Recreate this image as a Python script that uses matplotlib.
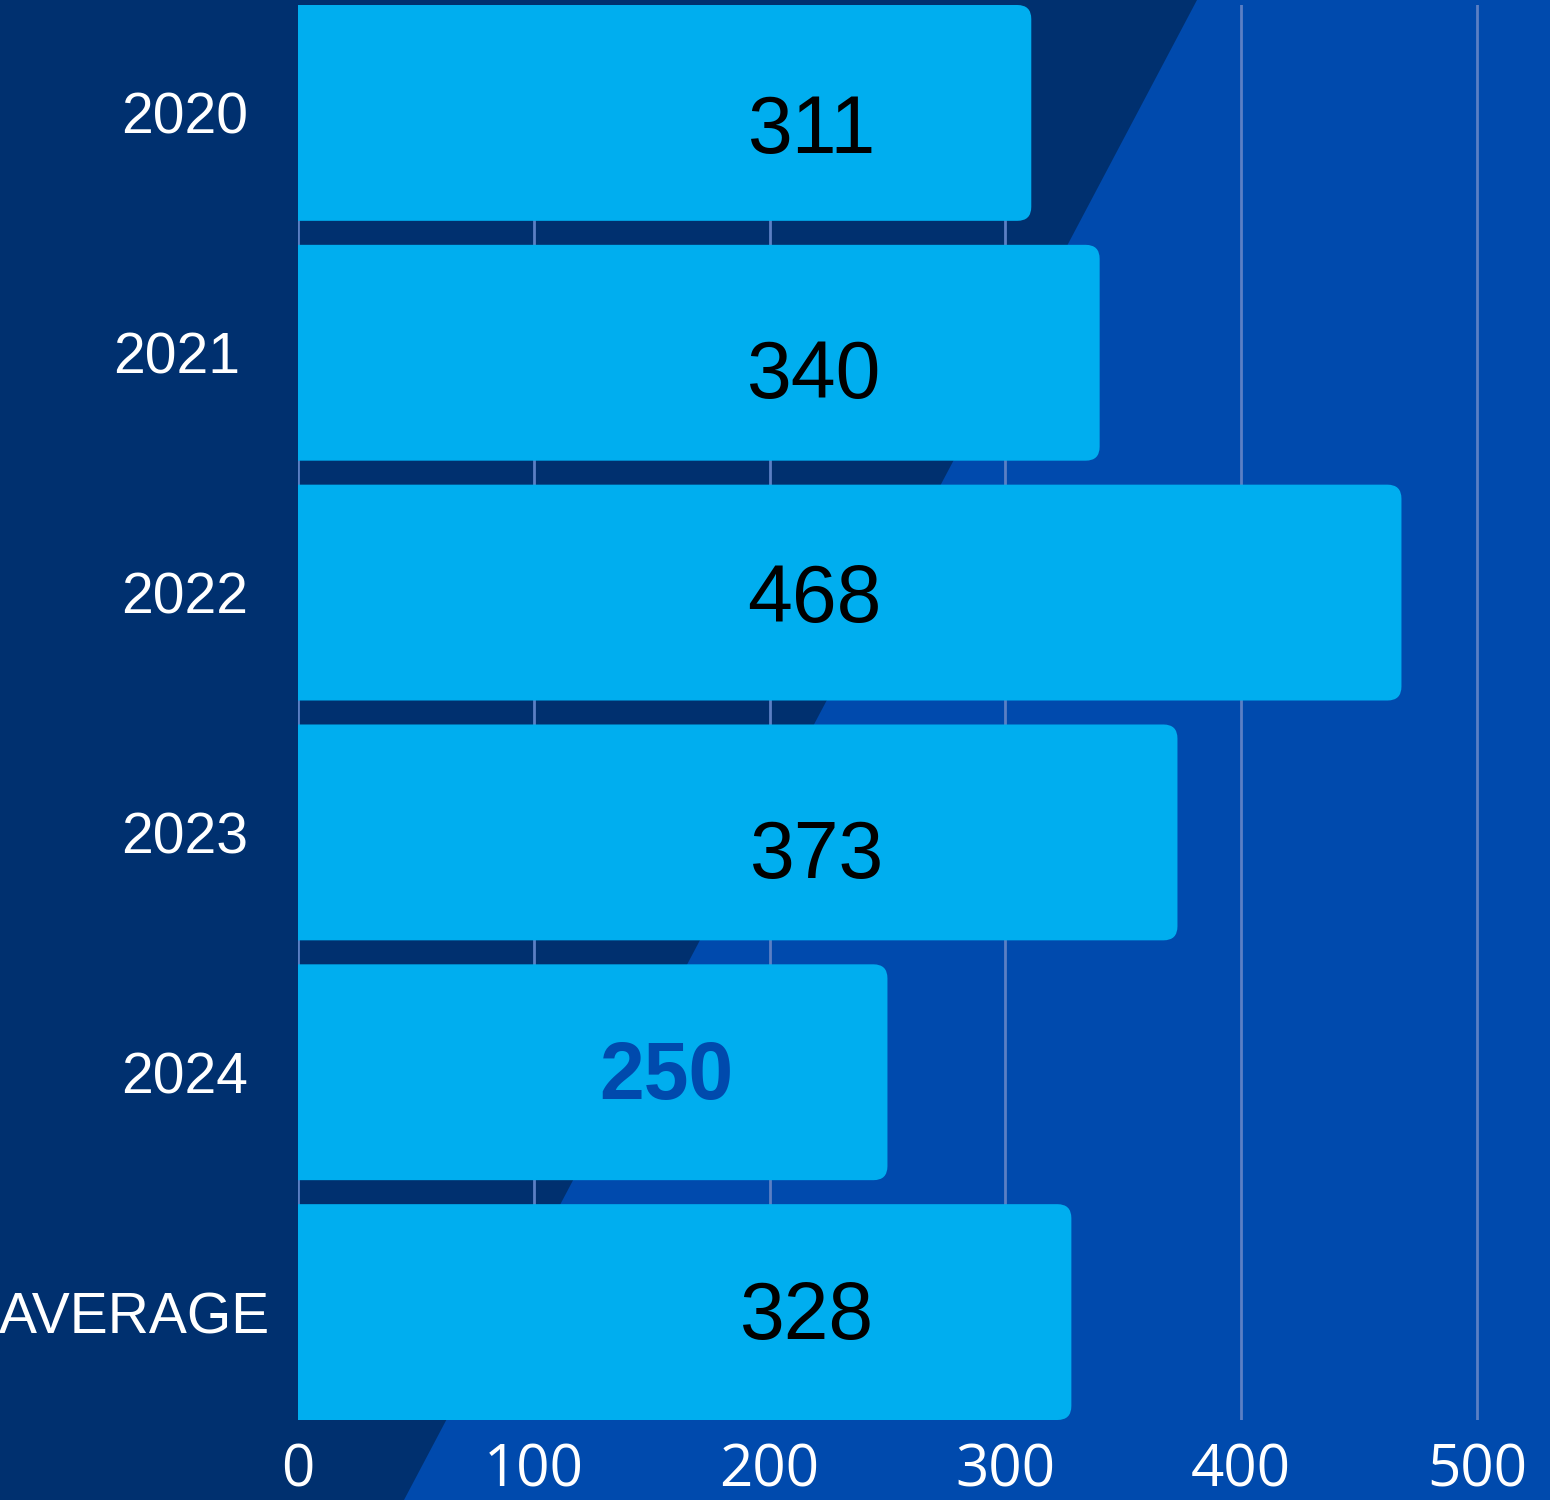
import matplotlib.pyplot as plt
from matplotlib.patches import FancyBboxPatch, Polygon

categories = ["2020", "2021", "2022", "2023", "2024", "AVERAGE"]
values = [311, 340, 468, 373, 250, 328]
x_ticks = [0, 100, 200, 300, 400, 500]

# label layout (data x of label centre, pixel nudge down)
label_x = [218, 219, 219, 220, 156, 216]
label_dy_px = [11, 16, 0, 16, -3, -3]

NAVY = "#00306f"
BLUE = "#004aad"
BAR = "#00aeef"
GRID = "#5b7fc4"

W, H = 1550, 1500
fig = plt.figure(figsize=(W / 100, H / 100), dpi=100)
fig.patch.set_facecolor(NAVY)

# diagonal lighter panel behind everything
fig.patches.append(Polygon([(1197 / W, 1), (1, 1), (1, 0), (404 / W, 0)], closed=True,
                           transform=fig.transFigure, facecolor=BLUE,
                           edgecolor="none", zorder=-5))

ax = fig.add_axes([298 / W, 80 / H, 1 - 298 / W, 1415 / H])
ax.patch.set_alpha(0)
xmax = 531
ax.set_xlim(0, xmax)
ax.set_ylim(len(categories) - 0.55, -0.45)
for s in ax.spines.values():
    s.set_visible(False)

ypos = list(range(len(categories)))
bars = ax.barh(ypos, values, height=0.9, color=BAR, zorder=2)

# pixels per data unit
ux = ax.bbox.width / xmax
uy = ax.bbox.height / (len(categories) - 0.1)
radius = 14 / ux
for b in bars:
    b.set_visible(False)
    x0, y0, w, h = b.get_x(), b.get_y(), b.get_width(), b.get_height()
    p = FancyBboxPatch((x0 - 3 * radius, y0), w + 3 * radius, h,
                       boxstyle=f"round,pad=0,rounding_size={radius}",
                       mutation_aspect=ux / uy, facecolor=BAR,
                       edgecolor="none", zorder=2)
    ax.add_patch(p)

for i, v in enumerate(values):
    bold = categories[i] == "2024"
    ax.text(label_x[i], i + label_dy_px[i] / uy, str(v), ha="center",
            va="center_baseline", fontsize=58, family="Liberation Sans",
            color=BLUE if bold else "black",
            fontweight="bold" if bold else "normal", zorder=3)

ax.set_xticks(x_ticks)
ax.set_xticklabels([str(t) for t in x_ticks], family="Open Sans",
                   fontsize=42, color="white")
ax.set_yticks(ypos)
ax.set_yticklabels(categories, family="Liberation Sans", fontsize=41,
                   color="white")
ax.tick_params(axis="both", length=0)
ax.tick_params(axis="x", pad=16)
ax.tick_params(axis="y", pad=36)
ax.grid(axis="x", color=GRID, linewidth=2, zorder=1)
ax.grid(axis="y", visible=False)
ax.set_axisbelow(True)

# small per-label nudges seen in the reference
for lab in ax.get_yticklabels():
    if lab.get_text() == "2021":
        lab.set_x(-8 / ax.bbox.width)
    if lab.get_text() == "AVERAGE":
        lab.set_x(22 / ax.bbox.width)

fig.savefig("out.png", dpi=100, facecolor=NAVY)
